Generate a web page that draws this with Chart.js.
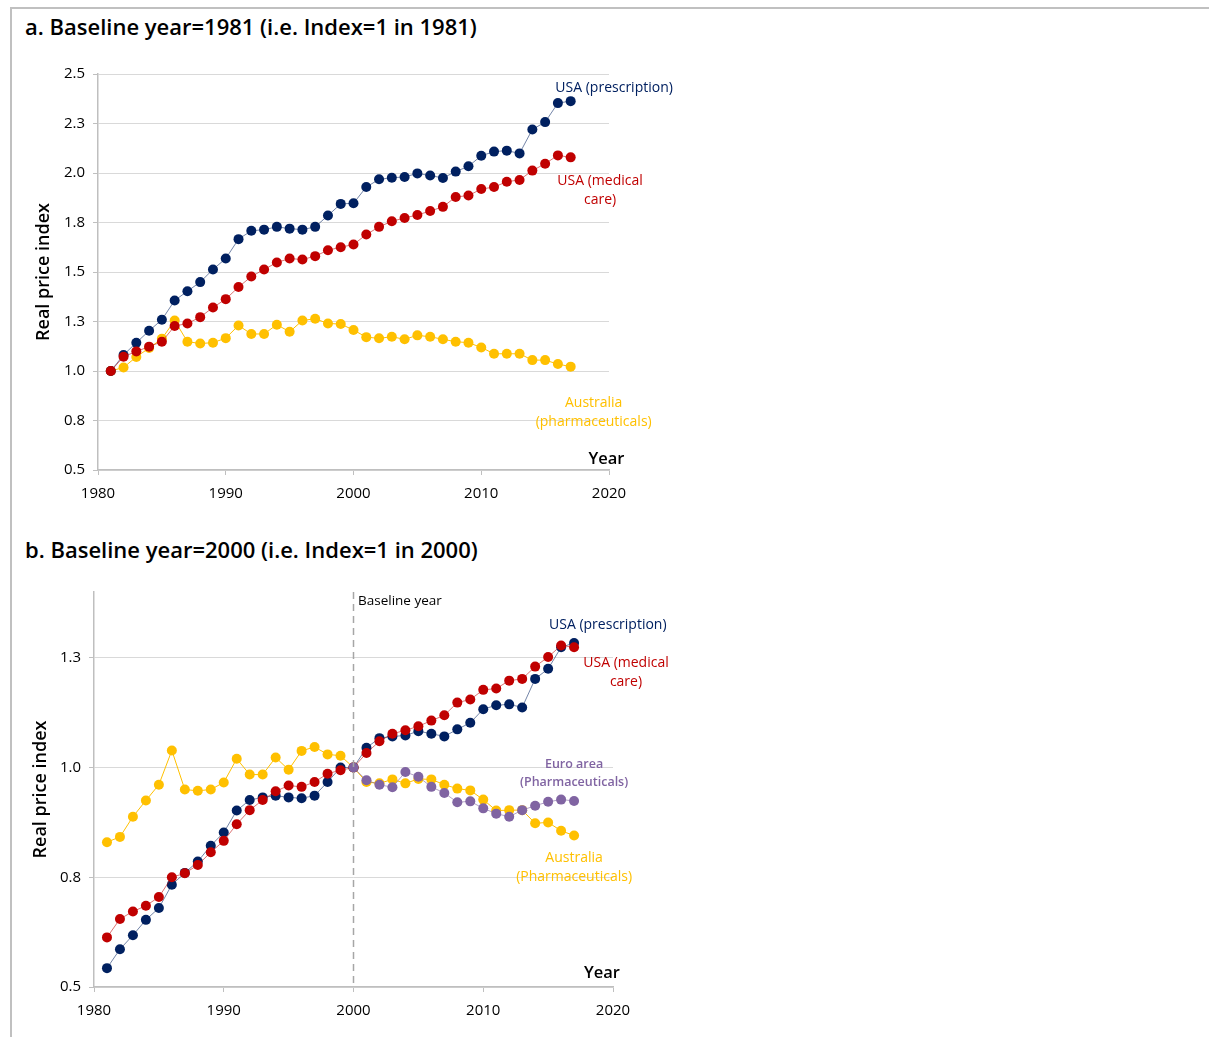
<!DOCTYPE html>
<html>
<head>
<meta charset="utf-8">
<script src="https://cdn.jsdelivr.net/npm/chart.js@4"></script>
<style>
  body { margin: 0; background: #fff; font-family: "Open Sans", sans-serif; }
  .frame { position: absolute; left: 10px; top: 7px; width: 1210px; height: 1040px;
           border-top: 2px solid #c0c0c0; border-left: 2px solid #c0c0c0; }
  .ptitle { position: absolute; left: 25px; font-size: 22px; font-weight: 600; color: #000; white-space: nowrap; }
  .box { position: absolute; left: 0; width: 700px; }
</style>
</head>
<body>
<div class="frame"></div>
<div class="ptitle" style="top:11px">a. Baseline year=1981 (i.e. Index=1 in 1981)</div>
<div class="ptitle" style="top:534px">b. Baseline year=2000 (i.e. Index=1 in 2000)</div>
<div class="box" style="top:50px;height:470px"><canvas id="chartA"></canvas></div>
<div class="box" style="top:570px;height:450px"><canvas id="chartB"></canvas></div>

<script>
// ---- data ----
const years = [1981,1982,1983,1984,1985,1986,1987,1988,1989,1990,1991,1992,1993,1994,1995,1996,1997,1998,1999,
               2000,2001,2002,2003,2004,2005,2006,2007,2008,2009,2010,2011,2012,2013,2014,2015,2016,2017];
const euroYears = years.slice(19); // 2000-2017

// panel a: index = 1 in 1981
const usaRxA = [1.000,1.081,1.143,1.203,1.259,1.356,1.403,1.449,1.513,1.568,1.666,1.708,1.714,1.728,1.719,1.714,1.728,1.785,1.844,
                1.847,1.929,1.968,1.976,1.980,1.998,1.987,1.975,2.007,2.034,2.087,2.108,2.113,2.099,2.220,2.257,2.353,2.363];
const usaMedA = [1.000,1.072,1.099,1.123,1.148,1.227,1.240,1.272,1.321,1.363,1.424,1.477,1.513,1.548,1.568,1.563,1.580,1.610,1.625,
                 1.639,1.689,1.728,1.756,1.773,1.788,1.808,1.829,1.879,1.886,1.919,1.929,1.956,1.965,2.012,2.047,2.089,2.079];
const ausA = [1.000,1.018,1.071,1.116,1.163,1.255,1.148,1.139,1.143,1.166,1.230,1.187,1.187,1.234,1.198,1.255,1.264,1.240,1.237,
              1.207,1.171,1.165,1.173,1.160,1.180,1.173,1.160,1.148,1.143,1.119,1.087,1.087,1.087,1.055,1.055,1.035,1.022];

// panel b: index = 1 in 2000
const usaRxB = [0.543,0.586,0.618,0.653,0.680,0.733,0.760,0.786,0.822,0.852,0.902,0.926,0.932,0.936,0.932,0.930,0.936,0.967,1.000,
                1.000,1.045,1.067,1.071,1.073,1.083,1.077,1.071,1.087,1.102,1.133,1.142,1.144,1.137,1.202,1.225,1.274,1.284];
const usaMedB = [0.613,0.655,0.672,0.685,0.705,0.750,0.759,0.778,0.807,0.833,0.871,0.903,0.926,0.946,0.959,0.956,0.967,0.986,0.994,
                 1.000,1.033,1.060,1.077,1.085,1.094,1.107,1.119,1.148,1.155,1.177,1.180,1.198,1.202,1.230,1.252,1.278,1.274];
const ausB = [0.830,0.842,0.888,0.925,0.961,1.039,0.950,0.947,0.950,0.966,1.020,0.984,0.984,1.023,0.995,1.038,1.047,1.030,1.027,
              1.000,0.967,0.964,0.973,0.964,0.974,0.973,0.961,0.952,0.948,0.927,0.902,0.903,0.903,0.873,0.875,0.856,0.845];
const euroB = [1.000,0.971,0.961,0.955,0.990,0.979,0.956,0.942,0.921,0.923,0.907,0.895,0.888,0.903,0.913,0.922,0.927,0.924];

const xTicks = [1980,1990,2000,2010,2020];
const yTicksA = [0.5,0.75,1.0,1.25,1.5,1.75,2.0,2.25,2.5];
const yTickLabelsA = ['0.5','0.8','1.0','1.3','1.5','1.8','2.0','2.3','2.5'];
const yTicksB = [0.5,0.75,1.0,1.25];
const yTickLabelsB = ['0.5','0.8','1.0','1.3'];
const baselineB = 2000;

// ---- styling ----
const NAVY = '#002060', RED = '#c00000', GOLD = '#ffc000', PURPLE = '#8064a2';
const FONT = '"Open Sans", sans-serif';

function pts(xs, ys) { return xs.map((x, i) => ({ x: x, y: ys[i] })); }

function series(label, xs, ys, color, lineColor) {
    return {
        label: label,
        data: pts(xs, ys),
        borderColor: lineColor,
        borderWidth: 1,
        backgroundColor: color,
        pointBackgroundColor: color,
        pointBorderColor: color,
        pointBorderWidth: 0,
        pointRadius: 5,
        tension: 0
    };
}

// text annotations anchored in data space
const textPlugin = {
    id: 'texts',
    afterDatasetsDraw(chart, args, opts) {
        const { ctx, scales: { x, y }, chartArea } = chart;
        ctx.save();
        if (opts.dashedAt != null) {
            const px = x.getPixelForValue(opts.dashedAt);
            ctx.strokeStyle = '#a6a6a6';
            ctx.lineWidth = 1.5;
            ctx.setLineDash([7, 5]);
            ctx.beginPath();
            ctx.moveTo(px, chartArea.top);
            ctx.lineTo(px, chartArea.bottom);
            ctx.stroke();
            ctx.setLineDash([]);
        }
        (opts.items || []).forEach(t => {
            ctx.font = (t.weight || 400) + ' ' + (t.size || 14) + 'px ' + FONT;
            ctx.fillStyle = t.color;
            ctx.textAlign = t.align || 'center';
            ctx.textBaseline = 'middle';
            const px = x.getPixelForValue(t.x);
            const py = y.getPixelForValue(t.y);
            t.lines.forEach((line, i) => ctx.fillText(line, px, py + i * (t.gap || 19)));
        });
        ctx.restore();
    }
};

function makeChart(id, datasets, cfg) {
    return new Chart(document.getElementById(id), {
        type: 'line',
        data: { datasets: datasets },
        plugins: [textPlugin],
        options: {
            responsive: true,
            maintainAspectRatio: false,
            animation: false,
            layout: { padding: cfg.padding },
            plugins: {
                legend: { display: false },
                tooltip: { enabled: false },
                texts: { items: cfg.texts, dashedAt: cfg.dashedAt }
            },
            scales: {
                x: {
                    type: 'linear',
                    min: 1980, max: 2020,
                    afterBuildTicks: s => { s.ticks = xTicks.map(v => ({ value: v })); },
                    afterFit: s => { s.height = cfg.xHeight; },
                    ticks: { color: '#000', font: { family: FONT, size: 15 }, padding: 10, maxRotation: 0,
                             callback: v => String(v) },
                    grid: { drawOnChartArea: false, tickLength: 5, tickColor: '#bfbfbf' },
                    border: { color: '#bfbfbf', width: 1.5 }
                },
                y: {
                    min: cfg.yMin, max: cfg.yMax,
                    afterBuildTicks: s => { s.ticks = cfg.yTicks.map(v => ({ value: v })); },
                    afterFit: s => { s.width = cfg.yWidth; },
                    ticks: { color: '#000', font: { family: FONT, size: 15 }, padding: 8,
                             callback: (v) => cfg.yLabels[cfg.yTicks.indexOf(v)] },
                    grid: { color: '#d9d9d9', lineWidth: 1, tickLength: 5, tickColor: '#bfbfbf' },
                    border: { color: '#bfbfbf', width: 1.5 },
                    title: { display: true, text: 'Real price index', color: '#000',
                             font: { family: FONT, size: 18, weight: 600 }, padding: { top: cfg.titlePad, bottom: 0 } }
                }
            }
        }
    });
}

makeChart('chartA', [
    series('USA (medical care)', years, usaMedA, RED, 'rgba(192,0,0,0.55)'),
    series('USA (prescription)', years, usaRxA, NAVY, 'rgba(0,32,96,0.55)'),
    series('Australia (pharmaceuticals)', years, ausA, GOLD, GOLD)
], {
    padding: { left: 0, top: 24, right: 91, bottom: 0 },
    xHeight: 50, yWidth: 98, titlePad: 33,
    yMin: 0.5, yMax: 2.5, yTicks: yTicksA, yLabels: yTickLabelsA,
    texts: [
        { lines: ['USA (prescription)'], x: 2020.4, y: 2.431, color: NAVY, size: 14 },
        { lines: ['USA (medical', 'care)'], x: 2019.3, y: 1.958, color: RED, size: 14 },
        { lines: ['Australia', '(pharmaceuticals)'], x: 2018.8, y: 0.839, color: GOLD, size: 14 },
        { lines: ['Year'], x: 2019.8, y: 0.552, color: '#000', size: 16.5, weight: 600 }
    ]
});

makeChart('chartB', [
    series('Euro area (Pharmaceuticals)', euroYears, euroB, PURPLE, 'rgba(128,100,162,0.6)'),
    series('USA (medical care)', years, usaMedB, RED, 'rgba(192,0,0,0.55)'),
    series('USA (prescription)', years, usaRxB, NAVY, 'rgba(0,32,96,0.55)'),
    series('Australia (Pharmaceuticals)', years, ausB, GOLD, GOLD)
], {
    padding: { left: 0, top: 22, right: 87, bottom: 0 },
    xHeight: 33, yWidth: 94, titlePad: 30,
    yMin: 0.5, yMax: 1.4, yTicks: yTicksB, yLabels: yTickLabelsB,
    dashedAt: baselineB,
    texts: [
        { lines: ['Baseline year'], x: 2000.35, y: 1.380, color: '#000', size: 13.5, align: 'left' },
        { lines: ['USA (prescription)'], x: 2019.6, y: 1.325, color: NAVY, size: 14 },
        { lines: ['USA (medical', 'care)'], x: 2021.0, y: 1.239, color: RED, size: 14 },
        { lines: ['Euro area', '(Pharmaceuticals)'], x: 2017.0, y: 1.007, color: PURPLE, size: 12.5, weight: 600, gap: 18 },
        { lines: ['Australia', '(Pharmaceuticals)'], x: 2017.0, y: 0.795, color: GOLD, size: 14 },
        { lines: ['Year'], x: 2019.15, y: 0.532, color: '#000', size: 16.5, weight: 600 }
    ]
});
</script>
</body>
</html>
